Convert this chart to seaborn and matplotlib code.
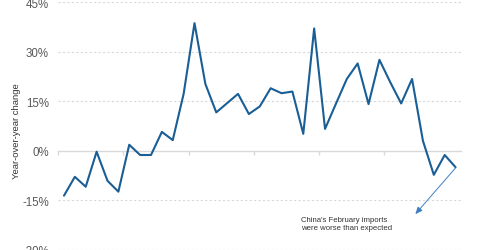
import matplotlib
matplotlib.use("Agg")
import matplotlib.pyplot as plt
import seaborn as sns
import pandas as pd
import numpy as np

# Data: China imports, year-over-year change (%), monthly
yoy_change = [-13.6, -7.9, -10.9, -0.3, -9.1, -12.4, 1.8, -1.3, -1.3, 5.7,
              3.2, 17.2, 38.6, 20.2, 11.6, 14.4, 17.2, 11.1, 13.4, 18.9,
              17.4, 17.9, 5.1, 37.0, 6.6, 14.2, 21.7, 26.4, 14.1, 27.5,
              20.7, 14.3, 21.7, 3.0, -7.3, -1.3, -5.0]
month_index = list(range(len(yoy_change)))
y_ticks = [-30, -15, 0, 15, 30, 45]
y_tick_labels = ["-30%", "-15%", "0%", "15%", "30%", "45%"]
y_label = "Year-over-year change"
note_text = "China's February imports\nwere worse than expected"

df = pd.DataFrame({"month": month_index, "yoy": yoy_change})

sns.set_theme(style="white")
plt.rcParams["font.family"] = ["Liberation Sans", "DejaVu Sans"]

fig = plt.figure(figsize=(4.8, 2.51), dpi=100)
ax = fig.add_axes([58 / 480, 1 - 250.85 / 251, (461 - 58) / 480, (250.85 - 3) / 251])

sns.lineplot(data=df, x="month", y="yoy", ax=ax, color="#1a5e96", linewidth=1.5)

ax.set_xlim(-0.55, 36.5)
ax.set_ylim(-30, 45)

# gridlines (dotted) except zero
for yv in y_ticks:
    if yv != 0:
        ax.axhline(yv, color="#d9d9d9", linewidth=0.8, linestyle=(0, (2, 2)), zorder=0)

for s in ["top", "right", "left"]:
    ax.spines[s].set_visible(False)
ax.spines["bottom"].set_position(("data", 0))
ax.spines["bottom"].set_color("#d9d9d9")
ax.spines["bottom"].set_linewidth(1.0)
ax.spines["bottom"].set_zorder(0)

ax.set_xticks([-0.55 + 6 * k for k in range(6)])
ax.set_xticklabels([])
ax.tick_params(axis="x", direction="out", length=3, width=1.0, color="#d9d9d9", bottom=True)

ax.set_yticks(y_ticks)
ax.set_yticklabels(y_tick_labels)
ax.tick_params(axis="y", length=0, pad=6.5, labelsize=8.3, labelcolor="#595959")

ax.set_xlabel("")
ax.set_ylabel("")
fig.text(16.5 / 480, 1 - 131.5 / 251, y_label, rotation=90, ha="center", va="center",
         fontsize=6.8, color="#333333")

ax.annotate("", xy=(32.3, -19.2), xytext=(36, -5.2),
            arrowprops=dict(arrowstyle="-|>,head_length=0.35,head_width=0.15",
                            color="#3f7fbf", lw=0.7, shrinkA=0, shrinkB=0))
ax.text(21.8, -19.9, note_text, ha="left", va="top", fontsize=5.6, color="#333333",
        linespacing=1.2)

ax.set_facecolor("white")
fig.patch.set_facecolor("white")
fig.savefig("out.png", dpi=100)
